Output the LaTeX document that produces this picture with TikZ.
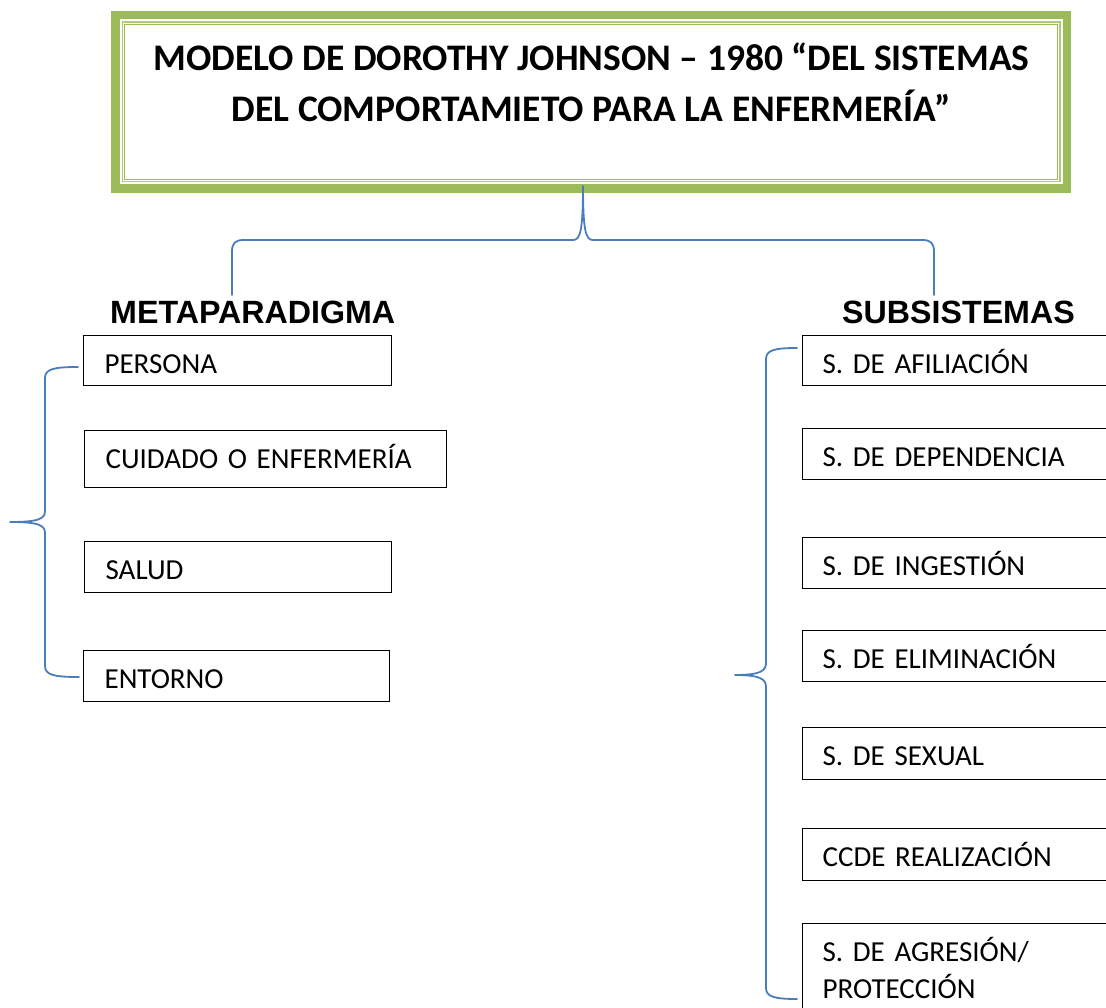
\documentclass[tikz,border=0pt]{standalone}
\usepackage{fontspec}
\setmainfont{Carlito}
\newfontfamily\boxfont{Carlito}
\newfontfamily\hdfont{Liberation Sans}
\definecolor{grn}{HTML}{9BBB59}
\definecolor{blu}{HTML}{4A7EBB}
\newcommand\boxtextfont{\boxfont\fontsize{29}{37}\selectfont\frenchspacing\spaceskip=0.17em\relax}
\tikzset{
  bx/.style={draw=black, line width=1.2pt, anchor=north west, inner xsep=21pt, inner ysep=0pt,
    align=left, text height=38pt, font=\boxtextfont},
  rbx/.style={bx, inner xsep=20pt, text width=290pt, text depth=13pt},
  hd/.style={anchor=base west, inner sep=0pt, font=\hdfont\bfseries\fontsize{32.2}{38}\selectfont},
  ttl/.style={anchor=base, inner sep=0pt, font=\bfseries\fontsize{37.5}{50}\selectfont},
  brace/.style={draw=blu, line width=1.8pt, line cap=round, line join=round}
}
\begin{document}
\begin{tikzpicture}[x=1pt,y=-1pt]
\useasboundingbox (0,0) rectangle (1106,1008);
% title frame
\draw[grn, line width=8.5pt] (115.25,15.25) rectangle (1066.75,188.75);
\draw[grn!80, line width=1.6pt] (122.3,22.3) rectangle (1059.7,181.7);
\draw[grn, line width=1.1pt] (124.8,24.8) rectangle (1057.2,179.2);
\node[ttl] (title1) at (591.5,71) {MODELO DE DOROTHY JOHNSON – 1980 “DEL SISTEMAS};
\node[ttl] (title2) at (591.5,122) {DEL COMPORTAMIETO PARA LA ENFERMERÍA”};
\coordinate (tip) at (583,186);
% headings
\node[hd] (meta) at (110,324) {METAPARADIGMA};
\node[hd] (subs) at (842,324) {SUBSISTEMAS};
\coordinate (metaTop) at (232,295);
\coordinate (subsTop) at (934,295);
% top brace
\draw[brace] (metaTop) -- (232,252) .. controls (232,243) and (235,240) .. (244,240)
  -- (573,240) .. controls (580,240) and (583,232) .. (tip)
  .. controls (583,232) and (586,240) .. (593,240) -- (922,240)
  .. controls (931,240) and (934,243) .. (934,252) -- (subsTop);
% left boxes
\node[bx, text width=266pt, text depth=12pt] (persona) at (83,335) {PERSONA};
\node[bx, text width=320pt, text depth=19pt] (cuidado) at (84,430) {CUIDADO O ENFERMERÍA};
\node[bx, text width=265pt, text depth=13pt] (salud) at (84,541) {SALUD};
\node[bx, text width=264pt, text depth=13pt] (entorno) at (83,650) {ENTORNO};
% right boxes
\node[rbx, text depth=12pt] (afil) at (802,335) {S. DE AFILIACIÓN};
\node[rbx] (depe) at (802,428) {S. DE DEPENDENCIA};
\node[rbx] (inge) at (802,537) {S. DE INGESTIÓN};
\node[rbx] (elim) at (802,630) {S. DE ELIMINACIÓN};
\node[rbx, text depth=14pt] (sexu) at (802,727) {S. DE SEXUAL};
\node[rbx, text depth=14pt] (real) at (802,828) {CCDE REALIZACIÓN};
\node[rbx, text depth=120pt] (agre) at (802,923) {S. DE AGRESIÓN/\\PROTECCIÓN};
% left brace
\coordinate (lTop) at (78,367);
\coordinate (lTip) at (10,522);
\coordinate (lBot) at (79,677);
\draw[brace] (lTop) .. controls (54,367) and (45,369) .. (45,378) -- (45,511)
  .. controls (45,519) and (38,522) .. (lTip)
  .. controls (38,522) and (45,525) .. (45,533) -- (45,666)
  .. controls (45,675) and (54,677) .. (lBot);
% right brace
\coordinate (rTop) at (797,348);
\coordinate (rTip) at (735,675);
\coordinate (rBot) at (797,999);
\draw[brace] (rTop) .. controls (775,348) and (766,350) .. (766,359) -- (766,663)
  .. controls (766,671) and (760,675) .. (rTip)
  .. controls (760,675) and (766,679) .. (766,687) -- (766,988)
  .. controls (766,997) and (775,999) .. (rBot);
\end{tikzpicture}
\end{document}
